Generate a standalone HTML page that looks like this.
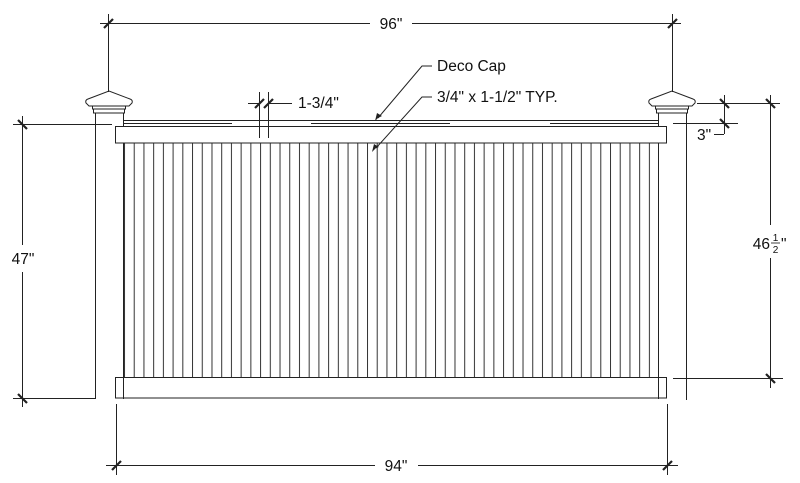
<!DOCTYPE html>
<html><head><style>
html,body{margin:0;padding:0;background:#fff;}
svg{display:block;}
text{font-family:"Liberation Sans",Arial,sans-serif;fill:#111;}
</style></head><body>
<svg width="800" height="483" viewBox="0 0 800 483" xmlns="http://www.w3.org/2000/svg">
<defs>
<pattern id="pk" x="124" y="0" width="9.72" height="10" patternUnits="userSpaceOnUse">
<line x1="0.5" y1="0" x2="0.5" y2="10" stroke="#333" stroke-width="1"/>
</pattern>
</defs>
<g stroke="#222" stroke-width="1" fill="none">
<rect x="123" y="143" width="535" height="234" fill="url(#pk)" stroke="none"/>
<rect x="115.5" y="126.5" width="551" height="16.5" fill="#fff"/>
<line x1="123" y1="120.5" x2="658" y2="120.5"/>
<line x1="123" y1="123.5" x2="232" y2="123.5"/>
<line x1="311" y1="123.5" x2="450" y2="123.5"/>
<line x1="550" y1="123.5" x2="658" y2="123.5"/>
<rect x="115.5" y="377.5" width="551" height="20.5" fill="#fff"/>
<line x1="95.5" y1="113" x2="95.5" y2="399"/>
<line x1="123.5" y1="113" x2="123.5" y2="126"/>
<line x1="123.5" y1="143" x2="123.5" y2="399"/>
<line x1="658.5" y1="113" x2="658.5" y2="126"/>
<line x1="658.5" y1="143" x2="658.5" y2="399"/>
<line x1="686.5" y1="113" x2="686.5" y2="400"/>
<g fill="#fff">
<path d="M88,99 L109,91 L130,99 Q133,100 132,103 L129,106 L89,106 L86,103 Q85,100 88,99 Z"/>
<rect x="92.5" y="106" width="33" height="3"/>
<rect x="93.5" y="109" width="31" height="4"/>
<path d="M651,99 L672,91 L693,99 Q696,100 695,103 L692,106 L652,106 L649,103 Q648,100 651,99 Z"/>
<rect x="655.5" y="106" width="33" height="3"/>
<rect x="656.5" y="109" width="31" height="4"/>
</g>
<line x1="108.5" y1="14" x2="108.5" y2="92"/>
<line x1="672.5" y1="14" x2="672.5" y2="92"/>
<line x1="100" y1="23.5" x2="370" y2="23.5"/>
<line x1="412" y1="23.5" x2="681" y2="23.5"/>
<line x1="116.5" y1="404" x2="116.5" y2="475"/>
<line x1="667.5" y1="404" x2="667.5" y2="475"/>
<line x1="106" y1="465.5" x2="375" y2="465.5"/>
<line x1="418" y1="465.5" x2="678" y2="465.5"/>
<line x1="13" y1="124.5" x2="112" y2="124.5"/>
<line x1="13" y1="398.5" x2="95" y2="398.5"/>
<line x1="22.5" y1="116" x2="22.5" y2="245"/>
<line x1="22.5" y1="272" x2="22.5" y2="407"/>
<line x1="697" y1="103.5" x2="780" y2="103.5"/>
<line x1="673" y1="378.5" x2="783" y2="378.5"/>
<line x1="770.5" y1="95" x2="770.5" y2="225"/>
<line x1="770.5" y1="258" x2="770.5" y2="388"/>
<line x1="724.5" y1="95" x2="724.5" y2="134"/>
<line x1="673" y1="123.5" x2="738" y2="123.5"/>
<line x1="714" y1="134.5" x2="724" y2="134.5"/>
<line x1="259.5" y1="92" x2="259.5" y2="138"/>
<line x1="268.5" y1="92" x2="268.5" y2="138"/>
<line x1="248" y1="103.5" x2="259" y2="103.5"/>
<line x1="268" y1="103.5" x2="292" y2="103.5"/>
<polyline points="432,66 422,66 378,118"/>
<polyline points="432,97 422,97 376,148"/>
</g>
<g stroke="#222" stroke-width="2.2">
<line x1="104" y1="28" x2="113" y2="19"/>
<line x1="668" y1="28" x2="677" y2="19"/>
<line x1="112" y1="470" x2="121" y2="461"/>
<line x1="663" y1="470" x2="672" y2="461"/>
<line x1="18" y1="120" x2="27" y2="129"/>
<line x1="18" y1="394" x2="27" y2="403"/>
<line x1="766" y1="99" x2="775" y2="108"/>
<line x1="766" y1="374" x2="775" y2="383"/>
<line x1="720" y1="99" x2="729" y2="108"/>
<line x1="720" y1="119" x2="729" y2="128"/>
<line x1="255" y1="108" x2="264" y2="99"/>
<line x1="264" y1="108" x2="273" y2="99"/>
</g>
<g fill="#222">
<path d="M378,118 L375,121 L377,113 L382,116 Z"/>
<path d="M376,148 L372,152 L374,144 L379,147 Z"/>
</g>
<g font-size="15.5">
<text x="391" y="29" text-anchor="middle">96"</text>
<text x="396" y="471" text-anchor="middle">94"</text>
<text x="23" y="264" text-anchor="middle">47"</text>
<text x="437" y="71">Deco Cap</text>
<text x="437" y="102">3/4" x 1-1/2" TYP.</text>
<text x="298" y="108">1-3/4"</text>
<text x="697" y="140">3"</text>
<text x="770" y="249" text-anchor="end">46</text>
<text x="775.5" y="241" font-size="10" text-anchor="middle">1</text>
<line x1="771" y1="243" x2="780" y2="243" stroke="#111" stroke-width="0.8"/>
<text x="775.5" y="253" font-size="10" text-anchor="middle">2</text>
<text x="781" y="249">"</text>
</g>
</svg>
</body></html>
